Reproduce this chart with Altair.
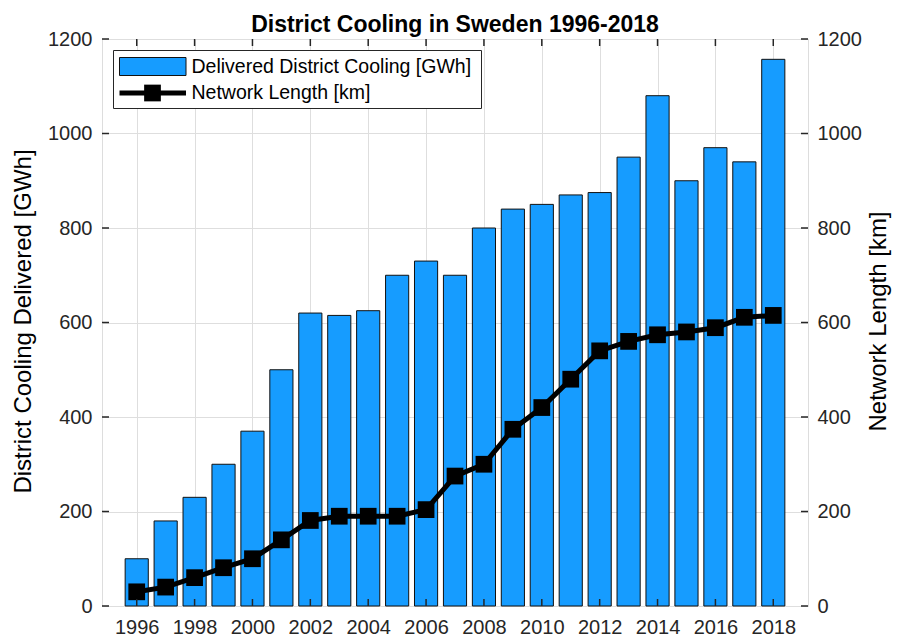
import altair as alt
import pandas as pd

# ---- data ----
years = list(range(1996, 2019))
cooling_gwh = [100, 180, 230, 300, 370, 500, 620, 615, 625, 700, 730, 700,
               800, 840, 850, 870, 875, 950, 1080, 900, 970, 940, 1157]
network_km = [30, 40, 60, 81, 100, 140, 181, 190, 190, 190, 204, 275,
              300, 374, 420, 480, 540, 560, 574, 580, 589, 611, 615]
x_ticks = list(range(1996, 2019, 2))
y_ticks = list(range(0, 1201, 200))

title_text = "District Cooling in Sweden 1996-2018"
left_title = "District Cooling Delivered [GWh]"
right_title = "Network Length [km]"
legend_labels = ["Delivered District Cooling [GWh]", "Network Length [km]"]

W, H = 706, 567
FONT = "Liberation Sans"
BLUE = "#169cff"
INK = "#262626"

df = pd.DataFrame({"year": years, "gwh": cooling_gwh, "km": network_km})
xt = pd.DataFrame({"year": x_ticks})
yt = pd.DataFrame({"v": y_ticks})
one = pd.DataFrame({"k": [0]})

xscale = alt.Scale(domain=[1994.8, 2019.2], nice=False, zero=False)


def ysc():
    return alt.Scale(domain=[0, 1200], nice=False, zero=True)


bars = alt.Chart(df).transform_calculate(
    x0="datum.year - 0.4", x1="datum.year + 0.4"
).mark_rect(fill=BLUE, stroke="#111111", strokeWidth=1).encode(
    x=alt.X("x0:Q", scale=xscale,
            axis=alt.Axis(values=x_ticks, format="d", title=None, tickSize=0,
                          domain=False, labelPadding=11, labelFontSize=20,
                          labelColor=INK, labelFont=FONT, grid=True,
                          gridColor="#dedede", gridWidth=1)),
    x2="x1:Q",
    y=alt.Y("gwh:Q", scale=ysc(),
            axis=alt.Axis(values=y_ticks, format="d", title=left_title,
                          tickSize=0, domain=False, labelPadding=10,
                          labelFontSize=20, labelColor=INK, labelFont=FONT,
                          grid=True, gridColor="#dedede", gridWidth=1,
                          titleFont=FONT, titleFontSize=24,
                          titleFontWeight="normal", titleColor="#000000",
                          titleAngle=270, titleBaseline="middle",
                          titleAlign="center", titleX=-79, titleY=282)),
    y2=alt.datum(0),
)

left_ticks = alt.Chart(yt).mark_rule(color=INK, strokeWidth=1.5).encode(
    y=alt.Y("v:Q", scale=ysc(), axis=None),
    x=alt.value(0), x2=alt.value(7),
)

line = alt.Chart(df).mark_line(color="#000000", strokeWidth=5).encode(
    x=alt.X("year:Q", scale=xscale),
    y=alt.Y("km:Q", scale=ysc(),
            axis=alt.Axis(orient="right", values=y_ticks, format="d",
                          title=right_title, tickSize=0, domain=False,
                          labelPadding=9, labelFontSize=20, labelColor=INK,
                          labelFont=FONT, grid=False, titleFont=FONT,
                          titleFontSize=24, titleFontWeight="normal",
                          titleColor="#000000", titleAngle=270,
                          titleBaseline="middle", titleAlign="center",
                          titleX=70, titleY=282)),
)
squares = alt.Chart(df).mark_square(color="#000000", opacity=1, size=280).encode(
    x=alt.X("year:Q", scale=xscale),
    y=alt.Y("km:Q", scale=ysc(), axis=None),
)
right_ticks = alt.Chart(yt).mark_rule(color=INK, strokeWidth=1.5).encode(
    y=alt.Y("v:Q", scale=ysc(), axis=None),
    x=alt.value(W - 7), x2=alt.value(W),
)

bottom_ticks = alt.Chart(xt).mark_rule(color=INK, strokeWidth=1.5).encode(
    x=alt.X("year:Q", scale=xscale), y=alt.value(H - 7), y2=alt.value(H),
)
top_ticks = alt.Chart(xt).mark_rule(color=INK, strokeWidth=1.5).encode(
    x=alt.X("year:Q", scale=xscale), y=alt.value(0), y2=alt.value(7),
)

title_mark = alt.Chart(one).mark_text(
    align="center", baseline="alphabetic", font=FONT, fontSize=23,
    fontWeight="bold", color="#000000", text=title_text
).encode(x=alt.value(W / 2), y=alt.value(-7))

leg_box = alt.Chart(one).mark_rect(fill="white", stroke=INK, strokeWidth=1).encode(
    x=alt.value(11.5), x2=alt.value(379.5), y=alt.value(11.5), y2=alt.value(69.5)
)
leg_swatch = alt.Chart(one).mark_rect(fill=BLUE, stroke="#111111", strokeWidth=1).encode(
    x=alt.value(17.5), x2=alt.value(84), y=alt.value(18.5), y2=alt.value(36.5)
)
leg_line = alt.Chart(one).mark_rule(color="#000000", strokeWidth=5).encode(
    x=alt.value(17.5), x2=alt.value(84), y=alt.value(54)
)
leg_sq = alt.Chart(one).mark_square(color="#000000", opacity=1, size=280).encode(
    x=alt.value(50.5), y=alt.value(54)
)
leg_t1 = alt.Chart(one).mark_text(align="left", baseline="middle", font=FONT,
                                  fontSize=19.5, color="#000000",
                                  text=legend_labels[0]).encode(
    x=alt.value(89.5), y=alt.value(28)
)
leg_t2 = alt.Chart(one).mark_text(align="left", baseline="middle", font=FONT,
                                  fontSize=19.5, color="#000000",
                                  text=legend_labels[1]).encode(
    x=alt.value(89.5), y=alt.value(54)
)

chart = alt.layer(
    bars, left_ticks, line, squares, right_ticks, bottom_ticks, top_ticks,
    title_mark, leg_box, leg_swatch, leg_line, leg_sq, leg_t1, leg_t2,
).resolve_scale(y="independent").properties(
    width=W, height=H,
    autosize=alt.AutoSizeParams(type="none"),
    padding={"left": 94, "top": 31, "right": 84, "bottom": 33},
).configure_view(
    stroke=INK, strokeWidth=2
).configure(background="white")

chart.save("out.html", embed_options={"renderer": "svg", "actions": False})
